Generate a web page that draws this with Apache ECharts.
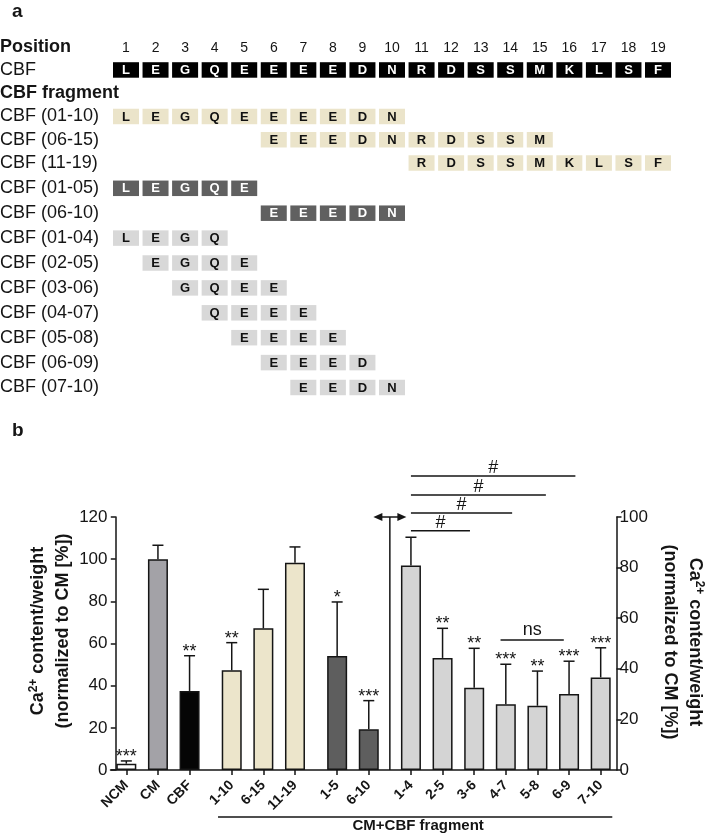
<!DOCTYPE html>
<html>
<head>
<meta charset="utf-8">
<title>CBF fragments</title>
<script src="https://cdn.jsdelivr.net/npm/echarts@6/dist/echarts.min.js"></script>
<style>
html,body{margin:0;padding:0;background:#fff;}
#chart{width:709px;height:840px;}
</style>
</head>
<body>
<div id="chart"></div>
<script>
// ---------- Panel a data ----------
const positions = [1,2,3,4,5,6,7,8,9,10,11,12,13,14,15,16,17,18,19];
const cbfSequence = ['L','E','G','Q','E','E','E','E','D','N','R','D','S','S','M','K','L','S','F'];
const headerRows = ['Position', 'CBF', 'CBF fragment'];
const fragmentLabels = ['CBF (01-10)','CBF (06-15)','CBF (11-19)','CBF (01-05)','CBF (06-10)','CBF (01-04)','CBF (02-05)','CBF (03-06)','CBF (04-07)','CBF (05-08)','CBF (06-09)','CBF (07-10)'];
const fragmentStart = [1,6,11,1,6,1,2,3,4,5,6,7];
const fragmentEnd   = [10,15,19,5,10,4,5,6,7,8,9,10];
const fragmentKind  = ['ten','ten','ten','five','five','four','four','four','four','four','four','four'];

// ---------- Panel b data ----------
const barGroups = [['NCM','CM','CBF'],['1-10','6-15','11-19'],['1-5','6-10'],['1-4','2-5','3-6','4-7','5-8','6-9','7-10']];
const barMeans = [3.0, 100.0, 37.5, 47.3, 67.2, 98.3, 54.1, 19.3, 80.8, 44.3, 32.5, 26.0, 25.4, 30.0, 36.6];
const barSD    = [1.3, 6.6, 16.7, 13.1, 18.5, 7.5, 25.6, 13.6, 11.2, 11.7, 15.6, 15.8, 13.7, 13.0, 11.7];
const barStars = ['***','','**','**','','','*','***','','**','**','***','**','***','***'];
const barAxis  = [0,0,0,0,0,0,0,0,1,1,1,1,1,1,1]; // 0 = left axis (0-120), 1 = right axis (0-100)
const barKind  = ['ncm','cm','cbf','ten','ten','ten','five','five','four','four','four','four','four','four','four'];
const leftAxisTicks = [0,20,40,60,80,100,120];
const rightAxisTicks = [0,20,40,60,80,100];
const sigLabels = ['#','#','#','#','ns'];
const sigStart  = [28, 28, 28, 28, 36.5];          // bar-slot units
const sigEnd    = [33.6, 37.6, 40.8, 43.6, 42.5];
const sigLevel  = [94.6, 101.6, 108.7, 116.2, 51.4]; // right-axis units
const bracketLabel = 'CM+CBF fragment';
const bracketFrom = 9.7, bracketTo = 47.1;

// ---------- styles / layout ----------
const FONT = '"Liberation Sans", Arial, Helvetica, sans-serif';
const INK = '#151515';
const cellFill = {full:'#000000', ten:'#ebe4ca', five:'#606060', four:'#d8d8d8'};
const cellInk  = {full:'#ffffff', ten:'#111111', five:'#ffffff', four:'#111111'};
const barFill  = {ncm:'#ffffff', cm:'#a3a2a7', cbf:'#050505', ten:'#ece5cb', five:'#5e5e5e', four:'#d4d4d4'};
const upperRowCount = 6; // panel a is laid out in two blocks of rows

// ---------- build panel a cells ----------
const rowLabels = headerRows.concat(fragmentLabels);
const cellData = [];
positions.forEach((p) => cellData.push([p, 0, String(p), 'num']));
cbfSequence.forEach((aa, i) => cellData.push([positions[i], 1, aa, 'full']));
fragmentLabels.forEach((lab, r) => {
  for (let p = fragmentStart[r]; p <= fragmentEnd[r]; p++) {
    cellData.push([p, r + headerRows.length, cbfSequence[p - 1], fragmentKind[r]]);
  }
});
const cellsUpper = cellData.filter(d => d[1] < upperRowCount);
const cellsLower = cellData.filter(d => d[1] >= upperRowCount).map(d => [d[0], d[1] - upperRowCount, d[2], d[3]]);

// ---------- build panel b categories ----------
const categories = [''];
const slotOf = {};
barGroups.forEach((g, gi) => {
  if (gi > 0) categories.push('');
  g.forEach(name => { slotOf[name] = categories.length; categories.push(name, '', ''); });
});
categories.pop();
const barNames = barGroups.flat();
const leftBars = categories.map(() => '-');
const rightBars = categories.map(() => '-');
const errLeft = [], errRight = [];
barNames.forEach((n, i) => {
  const item = {value: barMeans[i], itemStyle: {color: barFill[barKind[i]]}};
  (barAxis[i] ? rightBars : leftBars)[slotOf[n]] = item;
  (barAxis[i] ? errRight : errLeft).push([slotOf[n], barMeans[i], barMeans[i] + barSD[i], i]);
});
const lastLeft = barNames.filter((n, i) => barAxis[i] === 0).pop();
const firstRight = barNames.find((n, i) => barAxis[i] === 1);
const dividerSlot = (slotOf[lastLeft] + slotOf[firstRight]) / 2;
const rightMax = rightAxisTicks[rightAxisTicks.length - 1];
const leftMax = leftAxisTicks[leftAxisTicks.length - 1];

const chart = echarts.init(document.getElementById('chart'), null, {renderer: 'canvas', width: 709, height: 840});

function makeCellRenderer(list) {
  return function (params, api) {
    const d = list[params.dataIndex];
    const c = api.coord([d[0], d[1]]);
    if (d[3] === 'num') {
      return {type: 'text', style: {text: d[2], x: c[0], y: c[1] + 1, fill: INK, font: '14px ' + FONT, align: 'center', verticalAlign: 'middle'}};
    }
    const sz = api.size([1, 1]);
    const w = sz[0] * 0.88, h = 15.5;
    return {type: 'group', children: [
      {type: 'rect', shape: {x: c[0] - w / 2, y: c[1] - h / 2, width: w, height: h}, style: {fill: cellFill[d[3]]}},
      {type: 'text', style: {text: d[2], x: c[0], y: c[1] + 0.5, fill: cellInk[d[3]], font: 'bold 13px ' + FONT, align: 'center', verticalAlign: 'middle'}}
    ]};
  };
}

function renderErr(params, api) {
  const x = api.value(0), m = api.value(1), t = api.value(2), i = api.value(3);
  const a = api.coord([x, m]), b = api.coord([x, t]);
  const children = [
    {type: 'line', shape: {x1: a[0], y1: a[1], x2: b[0], y2: b[1]}, style: {stroke: INK, lineWidth: 1.5}},
    {type: 'line', shape: {x1: b[0] - 5.5, y1: b[1], x2: b[0] + 5.5, y2: b[1]}, style: {stroke: INK, lineWidth: 1.5}}
  ];
  if (barStars[i]) {
    children.push({type: 'text', style: {text: barStars[i], x: b[0], y: b[1] - 4, align: 'center', verticalAlign: 'middle', font: '18px ' + FONT, fill: INK}});
  }
  return {type: 'group', children};
}

function renderSig(params, api) {
  const k = params.dataIndex;
  const a = api.coord([sigStart[k], sigLevel[k]]);
  const b = api.coord([sigEnd[k], sigLevel[k]]);
  const isNs = sigLabels[k] === 'ns';
  return {type: 'group', children: [
    {type: 'line', shape: {x1: a[0], y1: a[1], x2: b[0], y2: b[1]}, style: {stroke: INK, lineWidth: 1.5}},
    {type: 'text', style: {text: sigLabels[k], x: (a[0] + b[0]) / 2, y: a[1] - (isNs ? 10 : 7.5), align: 'center', verticalAlign: 'middle', font: '18px ' + FONT, fill: INK}}
  ]};
}

function renderDivider(params, api) {
  const lo = api.coord([dividerSlot, 0]);
  const hi = api.coord([dividerSlot, rightMax]);
  const x = hi[0], y = hi[1];
  const half = 16.5, head = 9, hw = 4;
  return {type: 'group', children: [
    {type: 'line', shape: {x1: x, y1: lo[1], x2: x, y2: y}, style: {stroke: INK, lineWidth: 1.5}},
    {type: 'line', shape: {x1: x - half + 4, y1: y, x2: x + half - 4, y2: y}, style: {stroke: INK, lineWidth: 1.5}},
    {type: 'polygon', shape: {points: [[x - half, y], [x - half + head, y - hw], [x - half + head, y + hw]]}, style: {fill: INK}},
    {type: 'polygon', shape: {points: [[x + half, y], [x + half - head, y - hw], [x + half - head, y + hw]]}, style: {fill: INK}}
  ]};
}

function renderBracket(params, api) {
  const a = api.coord([bracketFrom, 0]);
  const b = api.coord([bracketTo, 0]);
  const y = a[1] + 47;
  return {type: 'group', children: [
    {type: 'line', shape: {x1: a[0], y1: y, x2: b[0], y2: y}, style: {stroke: INK, lineWidth: 1.5}},
    {type: 'text', style: {text: bracketLabel, x: (a[0] + b[0]) / 2 + 3, y: y + 8.5, align: 'center', verticalAlign: 'middle', font: 'bold 15px ' + FONT, fill: INK}}
  ]};
}

const showSlot = (idx, val) => val !== '';
const axisTitle = '{t|Ca}{s|2+}{t| content/weight}\n{t|(normalized to CM [%])}';
const titleRich = {
  t: {fontFamily: FONT, fontWeight: 'bold', fontSize: 18, lineHeight: 25, fill: INK, color: INK},
  s: {fontFamily: FONT, fontWeight: 'bold', fontSize: 12, lineHeight: 25, padding: [0, 0, 9, 0], fill: INK, color: INK}
};
const rowLabelAxis = (gridIndex, labels, boldIdx) => ({
  gridIndex, type: 'category', inverse: true, data: labels,
  axisLine: {show: false}, axisTick: {show: false}, splitLine: {show: false},
  axisLabel: {interval: 0, hideOverlap: false, align: 'left', margin: 111.2, fontFamily: FONT, fontSize: 18, color: INK,
    formatter: (v) => boldIdx.indexOf(v) >= 0 ? '{b|' + v + '}' : v,
    rich: {b: {fontFamily: FONT, fontWeight: 'bold', fontSize: 18, color: INK}}}
});
const boldRows = [headerRows[0], headerRows[2]];

const option = {
  animation: false,
  backgroundColor: '#ffffff',
  textStyle: {fontFamily: FONT},
  grid: [
    {left: 111.2, top: 35.07, width: 561.6, height: 139.56, outerBoundsMode: 'none', containLabel: false},
    {left: 111.2, top: 175.85, width: 561.6, height: 224.1, outerBoundsMode: 'none', containLabel: false},
    {left: 110.5, top: 517, width: 506, height: 253, outerBoundsMode: 'none', containLabel: false}
  ],
  xAxis: [
    {gridIndex: 0, type: 'value', min: 0.5, max: 19.5, show: false},
    {gridIndex: 1, type: 'value', min: 0.5, max: 19.5, show: false},
    {gridIndex: 2, type: 'category', data: categories,
      axisLine: {show: true, lineStyle: {color: INK, width: 1.5}},
      axisTick: {show: true, alignWithLabel: true, interval: showSlot, length: 5, lineStyle: {color: INK, width: 1.5}},
      axisLabel: {show: true, interval: showSlot, rotate: 45, margin: 13, fontFamily: FONT, fontWeight: 'bold', fontSize: 14, color: INK},
      splitLine: {show: false}},
    {gridIndex: 2, type: 'value', min: -0.5, max: categories.length - 0.5, show: false}
  ],
  yAxis: [
    rowLabelAxis(0, rowLabels.slice(0, upperRowCount), boldRows),
    rowLabelAxis(1, rowLabels.slice(upperRowCount), boldRows),
    {gridIndex: 2, type: 'value', position: 'left', min: 0, max: leftMax, interval: leftAxisTicks[1] - leftAxisTicks[0],
      axisLine: {show: true, lineStyle: {color: INK, width: 1.5}},
      axisTick: {show: true, length: 5, lineStyle: {color: INK, width: 1.5}},
      axisLabel: {margin: 3, fontFamily: FONT, fontSize: 17, color: INK},
      splitLine: {show: false}},
    {gridIndex: 2, type: 'value', position: 'right', min: 0, max: rightMax, interval: rightAxisTicks[1] - rightAxisTicks[0],
      axisLine: {show: true, lineStyle: {color: INK, width: 1.5}},
      axisTick: {show: true, length: 5, lineStyle: {color: INK, width: 1.5}},
      axisLabel: {margin: 3, fontFamily: FONT, fontSize: 17, color: INK},
      splitLine: {show: false}}
  ],
  graphic: [
    {type: 'text', left: 12, top: 2, style: {text: 'a', font: 'bold 19px ' + FONT, fill: INK}},
    {type: 'text', left: 12, top: 421, style: {text: 'b', font: 'bold 19px ' + FONT, fill: INK}},
    {type: 'text', x: 51, y: 631, rotation: Math.PI / 2, style: {text: axisTitle, rich: titleRich, x: 0, y: 0, align: 'center', verticalAlign: 'middle', font: 'bold 18px ' + FONT, fill: INK}},
    {type: 'text', x: 682, y: 642, rotation: -Math.PI / 2, style: {text: axisTitle, rich: titleRich, x: 0, y: 0, align: 'center', verticalAlign: 'middle', font: 'bold 18px ' + FONT, fill: INK}}
  ],
  series: [
    {type: 'custom', name: 'cells upper', xAxisIndex: 0, yAxisIndex: 0, data: cellsUpper.map(d => [d[0], d[1]]), renderItem: makeCellRenderer(cellsUpper), silent: true},
    {type: 'custom', name: 'cells lower', xAxisIndex: 1, yAxisIndex: 1, data: cellsLower.map(d => [d[0], d[1]]), renderItem: makeCellRenderer(cellsLower), silent: true},
    {type: 'bar', name: 'left bars', xAxisIndex: 2, yAxisIndex: 2, data: leftBars, barWidth: 20, barGap: '-100%',
      itemStyle: {borderColor: INK, borderWidth: 1.5}, silent: true},
    {type: 'bar', name: 'right bars', xAxisIndex: 2, yAxisIndex: 3, data: rightBars, barWidth: 20, barGap: '-100%',
      itemStyle: {borderColor: INK, borderWidth: 1.5}, silent: true},
    {type: 'custom', name: 'err left', xAxisIndex: 2, yAxisIndex: 2, data: errLeft, renderItem: renderErr, silent: true, z: 5},
    {type: 'custom', name: 'err right', xAxisIndex: 2, yAxisIndex: 3, data: errRight, renderItem: renderErr, silent: true, z: 5},
    {type: 'custom', name: 'sig', xAxisIndex: 3, yAxisIndex: 3, data: sigLabels.map((s, k) => [sigStart[k], sigLevel[k]]), renderItem: renderSig, silent: true, clip: false},
    {type: 'custom', name: 'divider', xAxisIndex: 3, yAxisIndex: 3, data: [[dividerSlot, rightMax]], renderItem: renderDivider, silent: true, clip: false},
    {type: 'custom', name: 'bracket', xAxisIndex: 3, yAxisIndex: 3, data: [[bracketFrom, 0]], renderItem: renderBracket, silent: true, clip: false}
  ]
};
chart.setOption(option);
</script>
</body>
</html>
